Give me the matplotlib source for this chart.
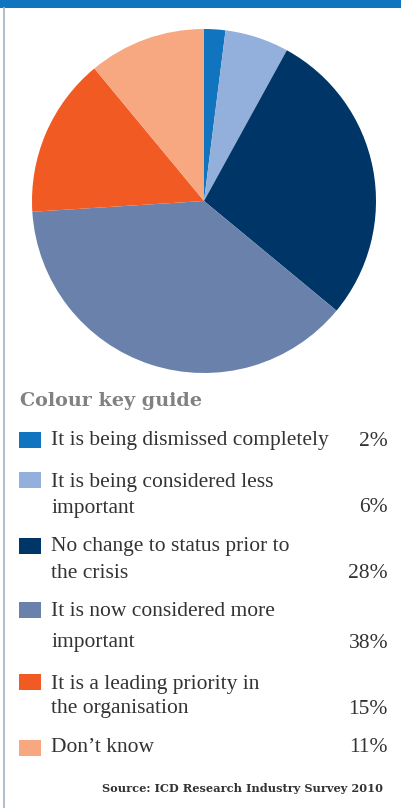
import matplotlib
matplotlib.use("Agg")
import matplotlib.pyplot as plt
from matplotlib.patches import Rectangle

labels = [
    "It is being dismissed completely",
    "It is being considered less\nimportant",
    "No change to status prior to\nthe crisis",
    "It is now considered more\nimportant",
    "It is a leading priority in\nthe organisation",
    "Don\u2019t know",
]
values = [2, 6, 28, 38, 15, 11]
colors = ["#1174bf", "#93afdb", "#003567", "#6a81ab", "#f15a22", "#f7a880"]

W, H = 401, 808
fig = plt.figure(figsize=(W / 100, H / 100), dpi=100)

# background canvas in pixel coords
bg = fig.add_axes([0, 0, 1, 1])
bg.set_xlim(0, W)
bg.set_ylim(H, 0)
bg.axis("off")
bg.add_patch(Rectangle((0, 0), W, 7.5, color="#1174bf", lw=0))
bg.plot([3.6, 3.6], [7.5, H], color="#a9b8c8", lw=1.3)

# pie
cx, cy, r = 204, 201, 172
pax = fig.add_axes([(cx - r) / W, (H - cy - r) / H, 2 * r / W, 2 * r / H])
pax.pie(values, colors=colors, startangle=90, counterclock=False,
        wedgeprops=dict(linewidth=0))
pax.set_xlim(-1, 1)
pax.set_ylim(-1, 1)
pax.set_aspect("equal")

# legend
bg.text(20, 401, "Colour key guide", fontsize=13.8, fontweight="bold",
        family="DejaVu Serif", color="#808282", va="center")

text_font = dict(family="Liberation Serif", fontsize=15.5, color="#333333")
square_y = [440, 480, 546, 610, 682, 748]
line1_y = [441, 482, 546, 612, 684, 748]
line_gap = [0, 26, 27, 31, 25, 0]
for lab, val, col, sy, ty, gap in zip(labels, values, colors, square_y, line1_y, line_gap):
    bg.add_patch(Rectangle((19, sy - 8), 22, 15.5, color=col, lw=0))
    lines = lab.split("\n")
    for k, ln in enumerate(lines):
        bg.text(51, ty + k * gap, ln, va="center", ha="left", **text_font)
    bg.text(388, ty + (len(lines) - 1) * gap, f"{val}%", va="center", ha="right", **text_font)

bg.text(383, 788, "Source: ICD Research Industry Survey 2010", fontsize=8.2,
        fontweight="bold", family="DejaVu Serif", color="#333333",
        va="center", ha="right")

fig.savefig("out.png", dpi=100)
